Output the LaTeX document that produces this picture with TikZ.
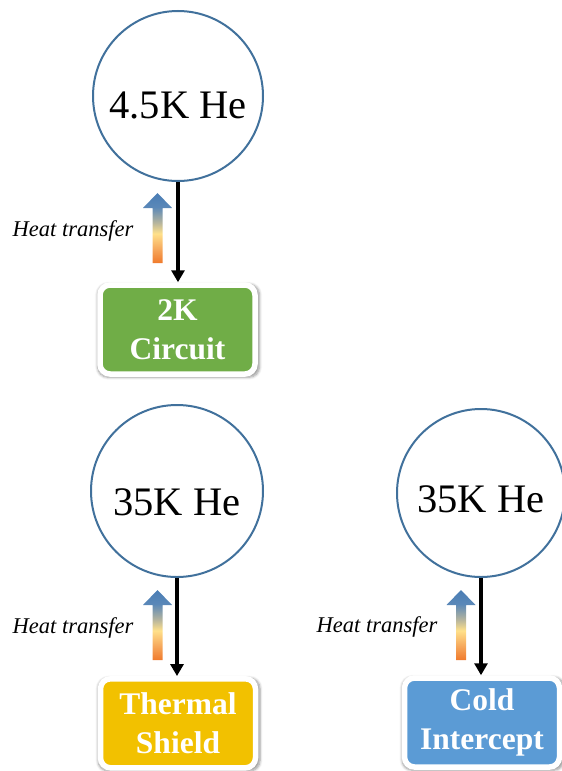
\documentclass[tikz,border=0pt]{standalone}
\usepackage{fontspec}
\setmainfont{Liberation Serif}
\usetikzlibrary{arrows.meta,shadows.blur}
\definecolor{ringblue}{HTML}{41719C}
\definecolor{circuitgreen}{HTML}{70AD47}
\definecolor{shieldgold}{HTML}{F2C100}
\definecolor{interceptblue}{HTML}{5B9BD5}
\definecolor{heattop}{HTML}{4A7DB5}
\definecolor{heatblue}{HTML}{5A88B8}
\definecolor{heatgrey}{HTML}{B4B49E}
\definecolor{heatmid}{HTML}{FFE08A}
\definecolor{heatlight}{HTML}{F6A85C}
\definecolor{heatbot}{HTML}{F07A2C}

% warm-to-cold colour ramp for the heat arrows
\pgfdeclareverticalshading{heatflow}{100bp}{%
  color(0bp)=(heatbot); color(25bp)=(heatbot); color(35bp)=(heatlight);
  color(46bp)=(heatmid); color(54bp)=(heatgrey); color(65bp)=(heatblue);
  color(75bp)=(heattop); color(100bp)=(heattop)}

\begin{document}
\begin{tikzpicture}[x=1pt,y=-1pt,
  tank/.style={circle, draw=ringblue, line width=2pt, fill=white, inner sep=0pt,
    font=\fontsize{40.5}{40.5}\selectfont, text depth=0pt},
  stage/.style={rounded corners=10pt, draw=white, line width=5.5pt,
    minimum width=155pt, minimum height=89pt, inner sep=0pt, text=white, align=center,
    font=\fontsize{31.5}{39}\selectfont\bfseries,
    blur shadow={shadow xshift=1pt, shadow yshift=-1.2pt, shadow scale=1.045,
      shadow blur steps=6, shadow blur radius=2.5pt, shadow opacity=40}},
  feed/.style={line width=3.4pt, -{Triangle[width=13pt,length=12pt]}},
  heatlabel/.style={font=\fontsize{22.5}{22.5}\selectfont\itshape},
  heat arrow/.pic={
    \shade[shading=heatflow]
      (0,0) -- (14.5,15) -- (5,15) -- (5,70) -- (-5,70) -- (-5,15) -- (-14.5,15) -- cycle;}
]
\useasboundingbox (0,0) rectangle (562,771);

% helium reservoirs
\node[tank, minimum size=170pt, text height=44pt] (c1) at (178,96) {4.5K He};
\node[tank, minimum size=172pt, text height=48pt] (c2) at (177,491) {35K He};
\node[tank, minimum size=168pt, text height=38pt] (c3) at (481,493) {35K He};

% cooled stages
\node[stage, fill=circuitgreen] (b1) at (177.5,329.5) {2K\\Circuit};
\node[stage, fill=shieldgold] (b2) at (178,723.3) {Thermal\\Shield};
\node[stage, fill=interceptblue] (b3) at (482,722.5) {Cold\\Intercept};

% coolant feeds
\draw[feed] (c1.south) -- (c1.south |- b1.north);
\draw[feed] (c2.south) -- (c2.south |- b2.north);
\draw[feed] (c3.south) -- (c3.south |- b3.north);

% heat flow markers
\pic at (157.5,193) {heat arrow};
\pic at (157.5,590) {heat arrow};
\pic at (461,590) {heat arrow};
\node[heatlabel] (h1) at (73,231) {Heat transfer};
\node[heatlabel] (h2) at (73,628) {Heat transfer};
\node[heatlabel] (h3) at (377,627) {Heat transfer};
\end{tikzpicture}
\end{document}
